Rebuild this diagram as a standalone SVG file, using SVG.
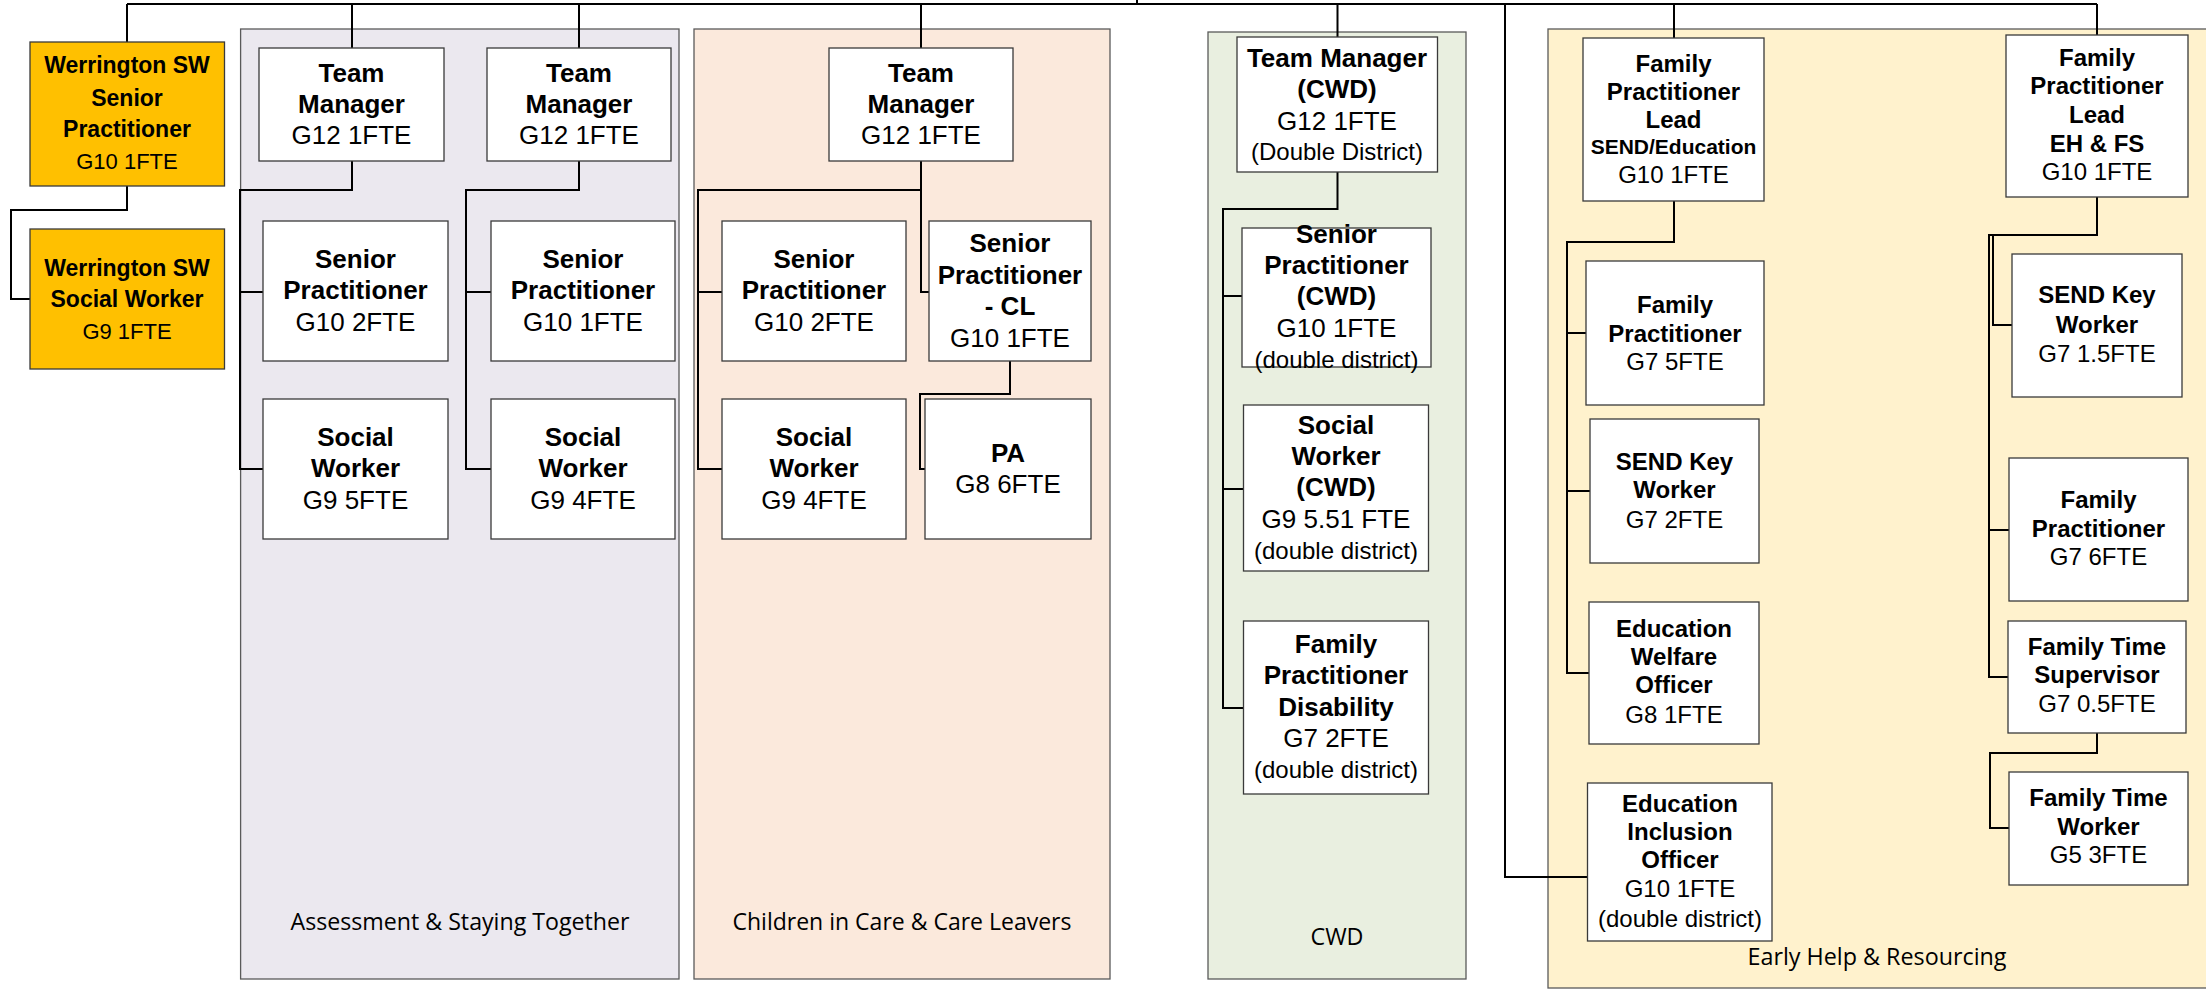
<svg xmlns="http://www.w3.org/2000/svg" width="2206" height="989" viewBox="0 0 2206 989">
<style>
.panel{stroke:#5a5a5a;stroke-width:1.3}
.node{fill:#fff;stroke:#3a3a3a;stroke-width:1.3}
.gold{fill:#FFC000;stroke:#3a3a3a;stroke-width:1.3}
.conn{fill:none;stroke:#000;stroke-width:2}
text{font-family:"Liberation Sans",Arial,sans-serif;text-anchor:middle;fill:#000}
.b{font-weight:bold}
.s26{font-size:26px}
.s24{font-size:24px}
.s23{font-size:23px}
.s22{font-size:22px}
.s21{font-size:21px}
.lbl{font-family:"Open Sans","Noto Sans",sans-serif;font-size:24px}
</style>
<rect width="2206" height="989" fill="#fff"/>
<g id="panels">
<g id="panel-assessment"><rect class="panel" x="240.6" y="29" width="438.4" height="950" fill="#EBE8EF"/><text class="lbl" x="460" y="930" textLength="339" lengthAdjust="spacingAndGlyphs">Assessment &amp; Staying Together</text></g>
<g id="panel-cic"><rect class="panel" x="694" y="29" width="416" height="950" fill="#FBE9DC"/><text class="lbl" x="902" y="930" textLength="339" lengthAdjust="spacingAndGlyphs">Children in Care &amp; Care Leavers</text></g>
<g id="panel-cwd"><rect class="panel" x="1208" y="32" width="258" height="947" fill="#E9EFE0"/><text class="lbl" x="1337" y="945" textLength="53" lengthAdjust="spacingAndGlyphs">CWD</text></g>
<g id="panel-eh"><rect class="panel" x="1548" y="29" width="680" height="959" fill="#FFF2CD"/><text class="lbl" x="1877" y="965" textLength="259" lengthAdjust="spacingAndGlyphs">Early Help &amp; Resourcing</text></g>
</g>
<g id="connectors">
<path class="conn" d="M127,4 H2097 M1137,0 V4"/>
<path class="conn" d="M127,4 V42 M127,186 V210 H11 V299 H30"/>
<path class="conn" d="M352,4 V48 M579,4 V48 M921,4 V48 M1337.5,4 V37 M1674,4 V38 M2097,4 V35"/>
<path class="conn" d="M1505,4 V877 H1587.5"/>
<path class="conn" d="M352,161 V190 H240 V469 H263 M240,292 H263"/>
<path class="conn" d="M579,161 V190 H466 V469 H491 M466,292 H491"/>
<path class="conn" d="M921,161 V190 H698 V469 H722 M698,292 H722 M921,190 V292 H929"/>
<path class="conn" d="M1010,361 V394 H920 V469 H925"/>
<path class="conn" d="M1337.5,172 V209 H1223 V708 H1243.5 M1223,296 H1242 M1223,489 H1243.5"/>
<path class="conn" d="M1674,201 V242 H1567 V673 H1589 M1567,333 H1586 M1567,491 H1590"/>
<path class="conn" d="M2097,197 V235 H1989 V677 H2008 M1993,235 V325 H2012 M1989,530 H2009"/>
<path class="conn" d="M2097,733 V753 H1990 V828 H2009"/>
</g>
<g id="nodes">
<g id="werrington-sp"><rect class="gold" x="30" y="42" width="194.5" height="144"/><text x="127"><tspan class="b s23" x="127" y="73">Werrington SW</tspan><tspan class="b s23" x="127" y="106">Senior</tspan><tspan class="b s23" x="127" y="137">Practitioner</tspan><tspan class="s22" x="127" y="169">G10 1FTE</tspan></text></g>
<g id="werrington-sw"><rect class="gold" x="30" y="229" width="194.5" height="140"/><text x="127"><tspan class="b s23" x="127" y="276">Werrington SW</tspan><tspan class="b s23" x="127" y="307">Social Worker</tspan><tspan class="s22" x="127" y="339">G9 1FTE</tspan></text></g>

<g id="tm1"><rect class="node" x="259" y="48" width="185" height="113"/><text><tspan class="b s26" x="351.5" y="82">Team</tspan><tspan class="b s26" x="351.5" y="113">Manager</tspan><tspan class="s26" x="351.5" y="144">G12 1FTE</tspan></text></g>
<g id="tm2"><rect class="node" x="487" y="48" width="184" height="113"/><text><tspan class="b s26" x="579" y="82">Team</tspan><tspan class="b s26" x="579" y="113">Manager</tspan><tspan class="s26" x="579" y="144">G12 1FTE</tspan></text></g>
<g id="sp1"><rect class="node" x="263" y="221" width="185" height="140"/><text><tspan class="b s26" x="355.5" y="268">Senior</tspan><tspan class="b s26" x="355.5" y="299">Practitioner</tspan><tspan class="s26" x="355.5" y="331">G10 2FTE</tspan></text></g>
<g id="sp2"><rect class="node" x="491" y="221" width="184" height="140"/><text><tspan class="b s26" x="583" y="268">Senior</tspan><tspan class="b s26" x="583" y="299">Practitioner</tspan><tspan class="s26" x="583" y="331">G10 1FTE</tspan></text></g>
<g id="sw1"><rect class="node" x="263" y="399" width="185" height="140"/><text><tspan class="b s26" x="355.5" y="446">Social</tspan><tspan class="b s26" x="355.5" y="477">Worker</tspan><tspan class="s26" x="355.5" y="509">G9 5FTE</tspan></text></g>
<g id="sw2"><rect class="node" x="491" y="399" width="184" height="140"/><text><tspan class="b s26" x="583" y="446">Social</tspan><tspan class="b s26" x="583" y="477">Worker</tspan><tspan class="s26" x="583" y="509">G9 4FTE</tspan></text></g>

<g id="tm3"><rect class="node" x="829" y="48" width="184" height="113"/><text><tspan class="b s26" x="921" y="82">Team</tspan><tspan class="b s26" x="921" y="113">Manager</tspan><tspan class="s26" x="921" y="144">G12 1FTE</tspan></text></g>
<g id="sp3"><rect class="node" x="722" y="221" width="184" height="140"/><text><tspan class="b s26" x="814" y="268">Senior</tspan><tspan class="b s26" x="814" y="299">Practitioner</tspan><tspan class="s26" x="814" y="331">G10 2FTE</tspan></text></g>
<g id="sp-cl"><rect class="node" x="929" y="221" width="162" height="140"/><text><tspan class="b s26" x="1010" y="252">Senior</tspan><tspan class="b s26" x="1010" y="283.5">Practitioner</tspan><tspan class="b s26" x="1010" y="315">- CL</tspan><tspan class="s26" x="1010" y="346.5">G10 1FTE</tspan></text></g>
<g id="sw3"><rect class="node" x="722" y="399" width="184" height="140"/><text><tspan class="b s26" x="814" y="446">Social</tspan><tspan class="b s26" x="814" y="477">Worker</tspan><tspan class="s26" x="814" y="509">G9 4FTE</tspan></text></g>
<g id="pa"><rect class="node" x="925" y="399" width="166" height="140"/><text><tspan class="b s26" x="1008" y="461.5">PA</tspan><tspan class="s26" x="1008" y="493">G8 6FTE</tspan></text></g>

<g id="cwd-tm"><rect class="node" x="1237" y="37" width="200.5" height="135"/><text><tspan class="b s26" x="1337" y="67">Team Manager</tspan><tspan class="b s26" x="1337" y="98">(CWD)</tspan><tspan class="s26" x="1337" y="130">G12 1FTE</tspan><tspan class="s24" x="1337" y="160">(Double District)</tspan></text></g>
<g id="cwd-sp"><rect class="node" x="1242" y="228" width="189" height="139"/><text><tspan class="b s26" x="1336.5" y="243">Senior</tspan><tspan class="b s26" x="1336.5" y="274">Practitioner</tspan><tspan class="b s26" x="1336.5" y="305">(CWD)</tspan><tspan class="s26" x="1336.5" y="337">G10 1FTE</tspan><tspan class="s24" x="1336.5" y="368">(double district)</tspan></text></g>
<g id="cwd-sw"><rect class="node" x="1243.5" y="405" width="185" height="166"/><text><tspan class="b s26" x="1336" y="434">Social</tspan><tspan class="b s26" x="1336" y="465">Worker</tspan><tspan class="b s26" x="1336" y="496">(CWD)</tspan><tspan class="s26" x="1336" y="528">G9 5.51 FTE</tspan><tspan class="s24" x="1336" y="559">(double district)</tspan></text></g>
<g id="cwd-fpd"><rect class="node" x="1243.5" y="621" width="185" height="173"/><text><tspan class="b s26" x="1336" y="653">Family</tspan><tspan class="b s26" x="1336" y="684">Practitioner</tspan><tspan class="b s26" x="1336" y="716">Disability</tspan><tspan class="s26" x="1336" y="747">G7 2FTE</tspan><tspan class="s24" x="1336" y="778">(double district)</tspan></text></g>

<g id="fpl-send"><rect class="node" x="1583" y="38" width="181" height="163"/><text><tspan class="b s24" x="1673.5" y="72">Family</tspan><tspan class="b s24" x="1673.5" y="100">Practitioner</tspan><tspan class="b s24" x="1673.5" y="128">Lead</tspan><tspan class="b s21" x="1673.5" y="154">SEND/Education</tspan><tspan class="s24" x="1673.5" y="183">G10 1FTE</tspan></text></g>
<g id="fp5"><rect class="node" x="1586" y="261" width="178" height="144"/><text><tspan class="b s24" x="1675" y="313">Family</tspan><tspan class="b s24" x="1675" y="342">Practitioner</tspan><tspan class="s24" x="1675" y="370">G7 5FTE</tspan></text></g>
<g id="sendkw2"><rect class="node" x="1590" y="419" width="169" height="144"/><text><tspan class="b s24" x="1674.5" y="470">SEND Key</tspan><tspan class="b s24" x="1674.5" y="498">Worker</tspan><tspan class="s24" x="1674.5" y="528">G7 2FTE</tspan></text></g>
<g id="ewo"><rect class="node" x="1589" y="602" width="170" height="142"/><text><tspan class="b s24" x="1674" y="637">Education</tspan><tspan class="b s24" x="1674" y="665">Welfare</tspan><tspan class="b s24" x="1674" y="693">Officer</tspan><tspan class="s24" x="1674" y="723">G8 1FTE</tspan></text></g>
<g id="eio"><rect class="node" x="1587.5" y="783" width="184.5" height="158"/><text><tspan class="b s24" x="1680" y="812">Education</tspan><tspan class="b s24" x="1680" y="840">Inclusion</tspan><tspan class="b s24" x="1680" y="868">Officer</tspan><tspan class="s24" x="1680" y="897">G10 1FTE</tspan><tspan class="s24" x="1680" y="927">(double district)</tspan></text></g>
<g id="fpl-eh"><rect class="node" x="2006" y="35" width="182" height="162"/><text><tspan class="b s24" x="2097" y="66">Family</tspan><tspan class="b s24" x="2097" y="94">Practitioner</tspan><tspan class="b s24" x="2097" y="123">Lead</tspan><tspan class="b s24" x="2097" y="152">EH &amp; FS</tspan><tspan class="s24" x="2097" y="180">G10 1FTE</tspan></text></g>
<g id="sendkw15"><rect class="node" x="2012" y="254" width="170" height="143"/><text><tspan class="b s24" x="2097" y="303">SEND Key</tspan><tspan class="b s24" x="2097" y="333">Worker</tspan><tspan class="s24" x="2097" y="362">G7 1.5FTE</tspan></text></g>
<g id="fp6"><rect class="node" x="2009" y="458" width="179" height="143"/><text><tspan class="b s24" x="2098.5" y="508">Family</tspan><tspan class="b s24" x="2098.5" y="537">Practitioner</tspan><tspan class="s24" x="2098.5" y="565">G7 6FTE</tspan></text></g>
<g id="fts"><rect class="node" x="2008" y="621" width="178" height="112"/><text><tspan class="b s24" x="2097" y="655">Family Time</tspan><tspan class="b s24" x="2097" y="683">Supervisor</tspan><tspan class="s24" x="2097" y="712">G7 0.5FTE</tspan></text></g>
<g id="ftw"><rect class="node" x="2009" y="772" width="179" height="113"/><text><tspan class="b s24" x="2098.5" y="806">Family Time</tspan><tspan class="b s24" x="2098.5" y="835">Worker</tspan><tspan class="s24" x="2098.5" y="863">G5 3FTE</tspan></text></g>
</g>
</svg>
